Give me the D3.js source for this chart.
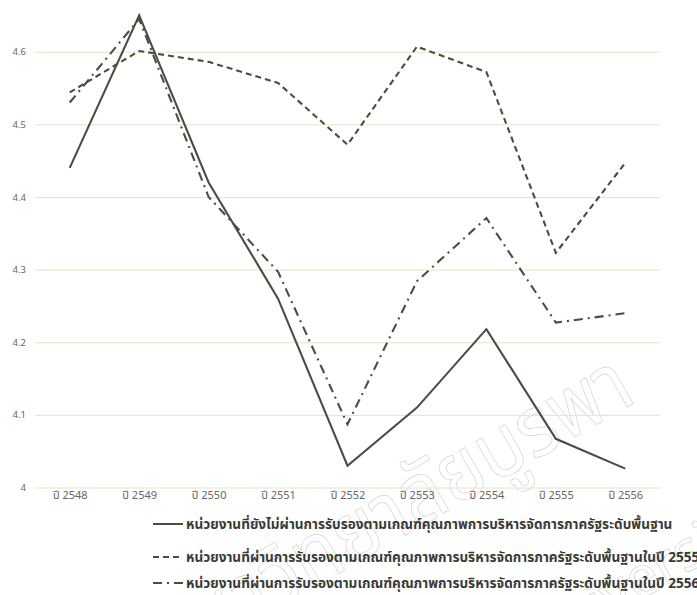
<!DOCTYPE html>
<html>
<head>
<meta charset="utf-8">
<script src="https://cdn.jsdelivr.net/npm/d3@7"></script>
<style>
  html, body { margin: 0; padding: 0; background: #fff; }
  svg { display: block; }
</style>
</head>
<body>
<svg id="chart" width="697" height="595"></svg>
<script>
const categories = ["ปี 2548","ปี 2549","ปี 2550","ปี 2551","ปี 2552","ปี 2553","ปี 2554","ปี 2555","ปี 2556"];
const notCertified = [4.44, 4.65, 4.42, 4.26, 4.03, 4.11, 4.218, 4.067, 4.026];
const certified2555 = [4.544, 4.601, 4.586, 4.557, 4.472, 4.607, 4.572, 4.323, 4.447];
const certified2556 = [4.53, 4.645, 4.40, 4.297, 4.087, 4.284, 4.371, 4.227, 4.24];
const yTicks = [4, 4.1, 4.2, 4.3, 4.4, 4.5, 4.6];
const yTickLabels = ["4", "4.1", "4.2", "4.3", "4.4", "4.5", "4.6"];
const legendLabels = [
  "หน่วยงานที่ยังไม่ผ่านการรับรองตามเกณฑ์คุณภาพการบริหารจัดการภาครัฐระดับพื้นฐาน",
  "หน่วยงานที่ผ่านการรับรองตามเกณฑ์คุณภาพการบริหารจัดการภาครัฐระดับพื้นฐานในปี 2555",
  "หน่วยงานที่ผ่านการรับรองตามเกณฑ์คุณภาพการบริหารจัดการภาครัฐระดับพื้นฐานในปี 2556"
];
const watermarkTexts = ["มหาวิทยาลัยบูรพา", "Burapha University"];

const series = [
  { values: notCertified, dash: null },
  { values: certified2555, dash: "6,4" },
  { values: certified2556, dash: "9,5,2,5" }
];

const svg = d3.select("#chart");
const fontFamily = "'Noto Sans', 'Noto Sans Thai', 'Loma', 'Garuda', 'Tlwg Typist', 'DejaVu Sans', sans-serif";
const lineColor = "#4c4c42";

const x = d3.scalePoint().domain(categories).range([35, 660]).padding(0.5);
const y = d3.scaleLinear().domain([4, 4.6]).range([487.5, 51.7]);

// watermark (outlined)
const wm = svg.append("g").attr("fill", "none").attr("stroke", "#d2d2d2").attr("stroke-width", 0.7);
wm.append("text")
  .attr("transform", "translate(390,510) rotate(-30)")
  .attr("text-anchor", "middle")
  .attr("dy", "0.35em")
  .attr("font-family", fontFamily)
  .attr("font-size", 84)
  .attr("textLength", 540)
  .attr("lengthAdjust", "spacingAndGlyphs")
  .text(watermarkTexts[0]);
wm.append("text")
  .attr("transform", "translate(545,655) rotate(-30)")
  .attr("text-anchor", "middle")
  .attr("font-family", fontFamily)
  .attr("font-size", 56)
  .text(watermarkTexts[1]);

// y axis with gridlines
const yAxis = d3.axisLeft(y)
  .tickValues(yTicks)
  .tickFormat((d, i) => yTickLabels[i])
  .tickSize(-625)
  .tickPadding(9);
const gy = svg.append("g").attr("transform", "translate(35,0)").call(yAxis);
gy.select(".domain").remove();
gy.selectAll(".tick line").attr("stroke", "#e4e4c6").attr("stroke-width", 1);
gy.selectAll(".tick text").attr("fill", "#666").attr("font-size", 9.5).attr("font-family", fontFamily);

// x axis
const xAxis = d3.axisBottom(x).tickSize(0).tickPadding(4);
const gx = svg.append("g").attr("transform", "translate(0,487.5)").call(xAxis);
gx.select(".domain").remove();
gx.selectAll(".tick text").attr("fill", "#666").attr("font-size", 11).attr("font-family", fontFamily);

// lines
const line = d3.line().x((d, i) => x(categories[i])).y(d => y(d));
svg.append("g").selectAll("path").data(series).join("path")
  .attr("d", d => line(d.values))
  .attr("fill", "none")
  .attr("stroke", lineColor)
  .attr("stroke-width", 2.1)
  .attr("stroke-linejoin", "miter")
  .attr("stroke-dasharray", d => d.dash);

// legend
const legendY = [524, 557, 583];
const lg = svg.append("g");
legendLabels.forEach((label, i) => {
  const g = lg.append("g").attr("transform", `translate(0,${legendY[i]})`);
  g.append("line")
    .attr("x1", 153).attr("x2", 183).attr("y1", 0).attr("y2", 0)
    .attr("stroke", lineColor).attr("stroke-width", 2)
    .attr("stroke-dasharray", series[i].dash ? (i === 1 ? "6,4" : "9,5,2,5") : null);
  g.append("text")
    .attr("x", 186).attr("y", 0).attr("dy", "0.35em")
    .attr("font-family", fontFamily)
    .attr("font-size", 13.6)
    .attr("font-weight", "bold")
    .attr("fill", "#3a3a36")
    .text(label);
});
</script>
</body>
</html>
